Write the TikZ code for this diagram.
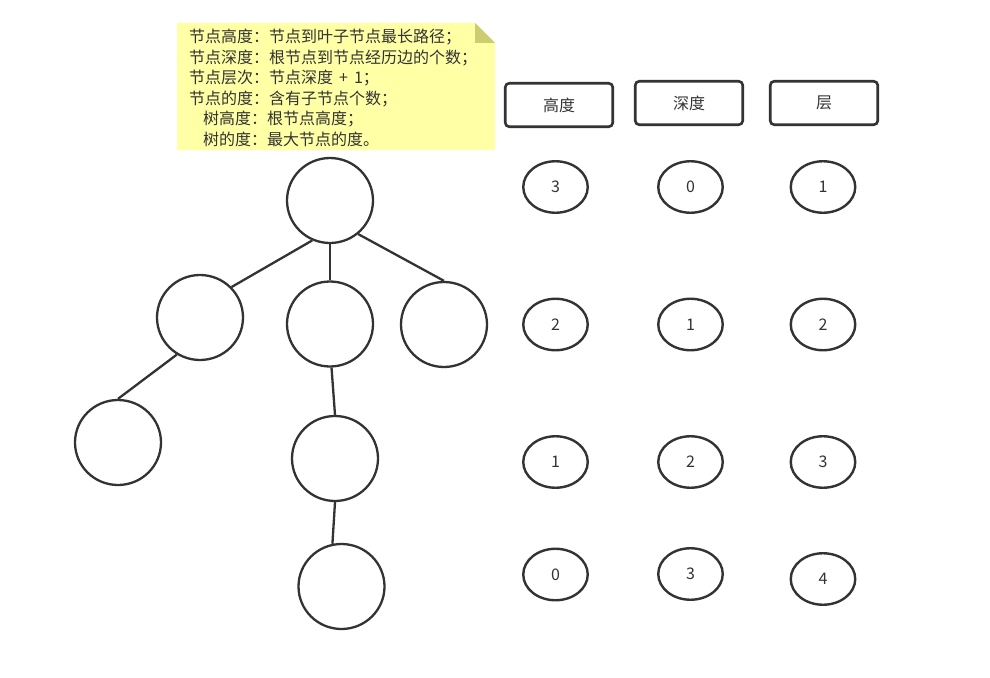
\documentclass[tikz,border=0pt]{standalone}
\usepackage{fontspec}
\setmainfont{Noto Sans CJK SC}
\usetikzlibrary{shapes.geometric}
\definecolor{ink}{HTML}{333333}
\definecolor{notefill}{RGB}{255,255,166}
\definecolor{notefold}{RGB}{205,205,112}
\begin{document}
\begin{tikzpicture}[x=1pt,y=-1pt,
  treenode/.style={ellipse, draw=ink, line width=2.3pt, minimum width=86pt, minimum height=85pt, inner sep=0pt, fill=white},
  valnode/.style={ellipse, draw=ink, line width=2.4pt, minimum width=64.5pt, minimum height=51.5pt, inner sep=0pt, font=\fontsize{16}{19}\selectfont, text=ink},
  headbox/.style={rectangle, rounded corners=4pt, draw=ink, line width=2.6pt, minimum width=107.5pt, minimum height=43.5pt, inner sep=0pt, font=\fontsize{16}{19}\selectfont, text=ink},
  edge/.style={draw=ink, line width=2.3pt},
  notetext/.style={font=\fontsize{16}{19}\selectfont, text=ink, inner sep=0pt, anchor=base west}]
\useasboundingbox (0,0) rectangle (990,677);
\fill[white] (0,0) rectangle (990,677);

% note
\path[fill=notefill] (177,23) -- (475,23) -- (495,43) -- (495,150) -- (177,150) -- cycle;
\path[fill=notefold] (475,23) -- (475,43) -- (495,43) -- cycle;
\node[notetext] (n1) at (189,43) {节点高度：节点到叶子节点最长路径；};
\node[notetext] (n2) at (189,63.5) {节点深度：根节点到节点经历边的个数；};
\node[notetext] (n3) at (189,84) {节点层次：节点深度\hspace{6pt}+\hspace{6pt}1；};
\node[notetext] (n4) at (189,104.5) {节点的度：含有子节点个数；};
\node[notetext] (n5) at (203,124.5) {树高度：根节点高度；};
\node[notetext] (n6) at (203,145) {树的度：最大节点的度。};

% tree
\node[treenode] (root) at (330,200.5) {};
\node[treenode] (l) at (200,317.5) {};
\node[treenode] (m) at (330,324) {};
\node[treenode] (r) at (444,324.5) {};
\node[treenode] (ll) at (118,442.5) {};
\node[treenode] (m3) at (335,458.5) {};
\node[treenode] (m4) at (341.5,586.5) {};
\draw[edge] (root.246) -- (l.44);
\draw[edge] (root.270) -- (m.90);
\draw[edge] (root.310) -- (r.90);
\draw[edge] (l.238) -- (ll.90);
\draw[edge] (m.272) -- (m3.90);
\draw[edge] (m3.270) -- (m4.102);

% headers
\node[headbox] (h1) at (559,105) {高度};
\node[headbox] (h2) at (689,103) {深度};
\node[headbox] (h3) at (824,103) {层};

% values
\node[valnode] (a1) at (555.5,187) {3};
\node[valnode] (b1) at (690.5,187) {0};
\node[valnode] (c1) at (823,187) {1};
\node[valnode] (a2) at (555.5,324.5) {2};
\node[valnode] (b2) at (690.5,324.5) {1};
\node[valnode] (c2) at (823,324.5) {2};
\node[valnode] (a3) at (555.5,462) {1};
\node[valnode] (b3) at (690.5,462) {2};
\node[valnode] (c3) at (823,462) {3};
\node[valnode] (a4) at (555.5,574.5) {0};
\node[valnode] (b4) at (690.5,574) {3};
\node[valnode] (c4) at (823,579) {4};
\end{tikzpicture}
\end{document}
